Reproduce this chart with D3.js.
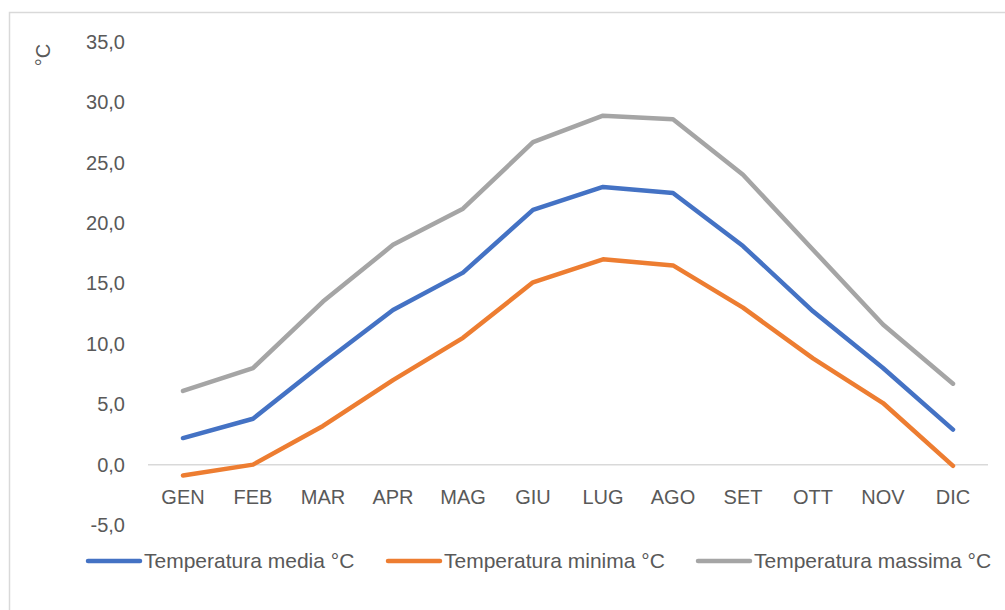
<!DOCTYPE html>
<html>
<head>
<meta charset="utf-8">
<script src="https://cdn.jsdelivr.net/npm/d3@7"></script>
<style>
  body { margin: 0; background: #fff; }
  text { font-family: "Liberation Sans", Arial, sans-serif; fill: #595959; }
</style>
</head>
<body>
<div id="chart"></div>
<script>
(function () {

	'use strict';

	// data
	var months = ['GEN', 'FEB', 'MAR', 'APR', 'MAG', 'GIU', 'LUG', 'AGO', 'SET', 'OTT', 'NOV', 'DIC'];
	var media = [2.2, 3.8, 8.4, 12.8, 15.9, 21.1, 23.0, 22.5, 18.1, 12.7, 8.0, 2.9];
	var minima = [-0.9, 0.0, 3.2, 7.0, 10.5, 15.1, 17.0, 16.5, 13.0, 8.8, 5.1, -0.1];
	var massima = [6.1, 8.0, 13.5, 18.2, 21.2, 26.7, 28.9, 28.6, 24.0, 17.8, 11.6, 6.7];
	var yTicks = [-5, 0, 5, 10, 15, 20, 25, 30, 35];

	var series = [
		{ name: 'Temperatura media °C', values: media, color: '#4472C4' },
		{ name: 'Temperatura minima °C', values: minima, color: '#ED7D31' },
		{ name: 'Temperatura massima °C', values: massima, color: '#A5A5A5' }
	];

	var width = 1005, height = 610;
	var margin = { top: 42, right: 17, bottom: 85, left: 148 };

	var svg = d3.select('#chart').append('svg')
		.attr('width', width)
		.attr('height', height);

	// chart frame (right and bottom edges fall outside the picture)
	svg.append('rect')
		.attr('x', 9.5).attr('y', 12.5)
		.attr('width', 1010).attr('height', 610)
		.attr('fill', 'none')
		.attr('stroke', '#d9d9d9')
		.attr('stroke-width', 1.5);

	var x = d3.scaleBand()
		.domain(months)
		.range([margin.left, width - margin.right]);

	var y = d3.scaleLinear()
		.domain([-5, 35])
		.range([height - margin.bottom, margin.top]);

	// excel style: one decimal, comma, plain hyphen for minus
	var fmt = function (d) { return d.toFixed(1).replace('.', ','); };

	// y axis labels
	var yAxis = svg.append('g')
		.attr('transform', 'translate(' + margin.left + ',0)')
		.call(d3.axisLeft(y).tickValues(yTicks).tickFormat(fmt).tickSize(0).tickPadding(23));
	yAxis.select('.domain').remove();
	yAxis.selectAll('text')
		.style('font-size', '20px')
		.style('font-family', '"Liberation Sans", Arial, sans-serif')
		.attr('fill', '#595959');

	// zero line
	svg.append('line')
		.attr('x1', margin.left).attr('x2', width - margin.right)
		.attr('y1', y(0)).attr('y2', y(0))
		.attr('stroke', '#d9d9d9')
		.attr('stroke-width', 1.5);

	// month labels
	svg.append('g').selectAll('text')
		.data(months)
		.enter().append('text')
		.attr('x', function (d) { return x(d) + x.bandwidth() / 2; })
		.attr('y', y(0) + 39)
		.attr('text-anchor', 'middle')
		.style('font-size', '20px')
		.text(function (d) { return d; });

	// axis title
	svg.append('text')
		.attr('transform', 'translate(50,55) rotate(-90)')
		.attr('text-anchor', 'middle')
		.style('font-size', '20px')
		.text('°C');

	var line = d3.line()
		.x(function (d, i) { return x(months[i]) + x.bandwidth() / 2; })
		.y(function (d) { return y(d); });

	svg.append('g').selectAll('path')
		.data(series)
		.enter().append('path')
		.attr('d', function (s) { return line(s.values); })
		.attr('fill', 'none')
		.attr('stroke', function (s) { return s.color; })
		.attr('stroke-width', 4.5)
		.attr('stroke-linecap', 'round')
		.attr('stroke-linejoin', 'round');

	// legend
	var legendX = [88, 388, 698];
	var legend = svg.append('g').selectAll('g')
		.data(series)
		.enter().append('g')
		.attr('transform', function (s, i) { return 'translate(' + legendX[i] + ',561)'; });

	legend.append('line')
		.attr('x1', 0).attr('x2', 52)
		.attr('stroke', function (s) { return s.color; })
		.attr('stroke-width', 4.5)
		.attr('stroke-linecap', 'round');

	legend.append('text')
		.attr('x', 56)
		.attr('y', 7)
		.style('font-size', '21px')
		.text(function (s) { return s.name; });
})();
</script>
</body>
</html>
